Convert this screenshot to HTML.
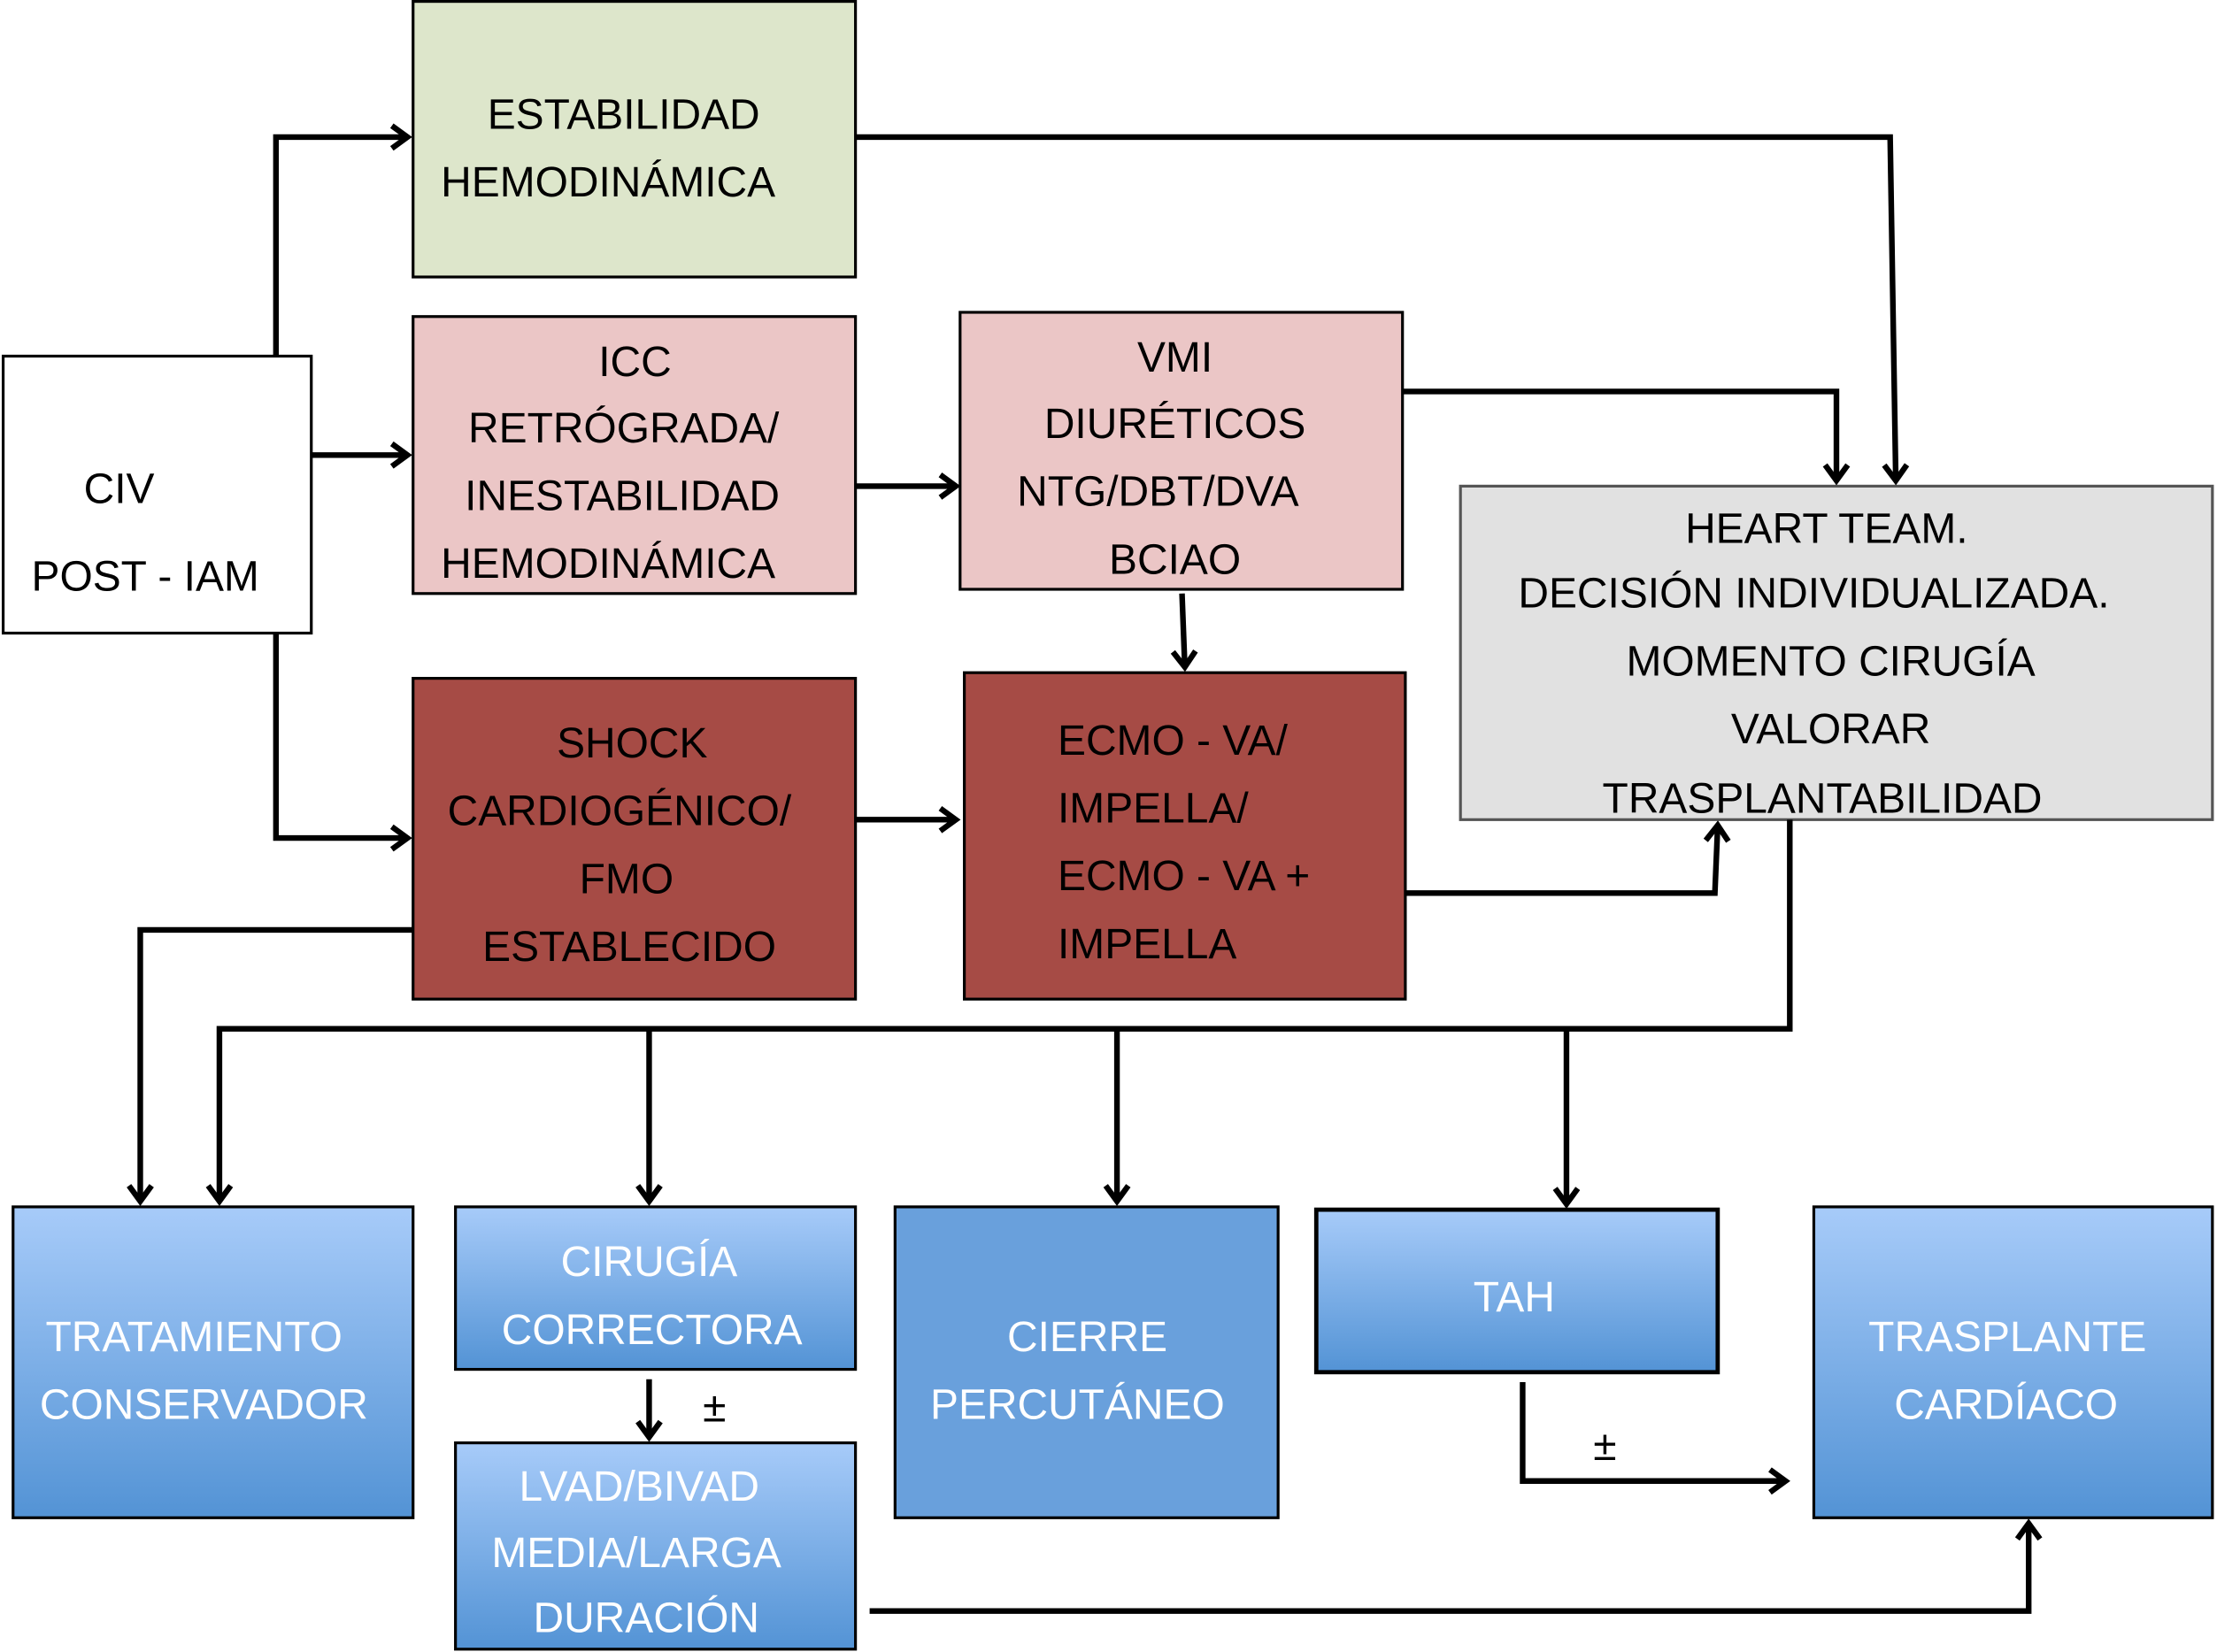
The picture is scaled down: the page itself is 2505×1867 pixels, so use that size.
<!DOCTYPE html>
<html><head><meta charset="utf-8"><style>
html,body{margin:0;padding:0;background:#fff}
svg{display:block}
text{font-family:"Liberation Sans",Arial,sans-serif;font-size:30px}
</style></head><body>
<svg width="2505" height="1867" viewBox="0 0 1568 1169" xmlns="http://www.w3.org/2000/svg">
<defs>
<linearGradient id="bl" x1="0" y1="0" x2="0" y2="1"><stop offset="0" stop-color="#a7cbf9"/><stop offset="1" stop-color="#5393d5"/></linearGradient>
<marker id="a" markerUnits="userSpaceOnUse" markerWidth="24" markerHeight="24" refX="13" refY="10" orient="auto" viewBox="0 0 24 20">
<path d="M2,2 L13,10 L2,18" fill="none" stroke="#000" stroke-width="4"/></marker>
</defs>
<g stroke="#000" stroke-width="2">
<rect x="2" y="252" width="218" height="196" fill="#fff"/>
<rect x="292" y="1" width="313" height="195" fill="#dde6cb"/>
<rect x="292" y="224" width="313" height="196" fill="#ebc6c6"/>
<rect x="679" y="221" width="313" height="196" fill="#ebc6c6"/>
<rect x="292" y="480" width="313" height="227" fill="#a64b45"/>
<rect x="682" y="476" width="312" height="231" fill="#a64b45"/>
<rect x="1033" y="344" width="532" height="236" fill="#e1e1e1" stroke="#555"/>
<rect x="9" y="854" width="283" height="220" fill="url(#bl)"/>
<rect x="322" y="854" width="283" height="115" fill="url(#bl)"/>
<rect x="322" y="1021" width="283" height="146" fill="url(#bl)"/>
<rect x="633" y="854" width="271" height="220" fill="#69a0dc"/>
<rect x="931" y="856" width="284" height="115" fill="url(#bl)" stroke-width="3"/>
<rect x="1283" y="854" width="282" height="220" fill="url(#bl)"/>
</g>
<g fill="none" stroke="#000" stroke-width="4">
<path d="M195,252 V97 H288" marker-end="url(#a)"/>
<path d="M220,322 H288" marker-end="url(#a)"/>
<path d="M195,448 V593 H288" marker-end="url(#a)"/>
<path d="M605,344 H676" marker-end="url(#a)"/>
<path d="M836,420 L838,472" marker-end="url(#a)"/>
<path d="M605,580 H676" marker-end="url(#a)"/>
<path d="M605,97 H1337 L1341,340" marker-end="url(#a)"/>
<path d="M992,277 H1299 V340" marker-end="url(#a)"/>
<path d="M994,632 H1213 L1215,584" marker-end="url(#a)"/>
<path d="M1266,580 V728 H155 V850" marker-end="url(#a)"/>
<path d="M459,728 V850" marker-end="url(#a)"/>
<path d="M790,728 V850" marker-end="url(#a)"/>
<path d="M1108,728 V852" marker-end="url(#a)"/>
<path d="M292,658 H99 V850" marker-end="url(#a)"/>
<path d="M459,976 V1017" marker-end="url(#a)"/>
<path d="M1077,978 V1048 H1263" marker-end="url(#a)"/>
<path d="M615,1140 H1435 V1078" marker-end="url(#a)"/>
</g>
<g fill="#000">
<text x="59" y="356">CIV</text>
<text x="22" y="418">POST - IAM</text>
<g text-anchor="middle">
<text x="441" y="91">ESTABILIDAD</text>
<text x="430" y="139">HEMODINÁMICA</text>
<text x="449" y="266">ICC</text>
<text x="441" y="313">RETRÓGRADA/</text>
<text x="440" y="361">INESTABILIDAD</text>
<text x="430" y="409">HEMODINÁMICA</text>
<text x="831" y="263">VMI</text>
<text x="831" y="310">DIURÉTICOS</text>
<text x="819" y="358">NTG/DBT/DVA</text>
<text x="831" y="406">BCIAO</text>
<text x="447" y="536">SHOCK</text>
<text x="438" y="584">CARDIOGÉNICO/</text>
<text x="443" y="632">FMO</text>
<text x="445" y="680">ESTABLECIDO</text>
<text x="1292" y="384">HEART  TEAM.</text>
<text x="1283" y="430">DECISIÓN  INDIVIDUALIZADA.</text>
<text x="1295" y="478">MOMENTO    CIRUGÍA</text>
<text x="1295" y="526">VALORAR</text>
<text x="1289" y="575">TRASPLANTABILIDAD</text>
</g>
<text x="748" y="534">ECMO - VA/</text>
<text x="748" y="582">IMPELLA/</text>
<text x="748" y="630">ECMO - VA   +</text>
<text x="748" y="678">IMPELLA</text>
<text x="497" y="1006" font-size="24">±</text>
<text x="1127" y="1033" font-size="24">±</text>
</g>
<g fill="#fff" text-anchor="middle">
<text x="137" y="956">TRATAMIENTO</text>
<text x="144" y="1004">CONSERVADOR</text>
<text x="459" y="903">CIRUGÍA</text>
<text x="461" y="951">CORRECTORA</text>
<text x="452" y="1062">LVAD/BIVAD</text>
<text x="450" y="1109">MEDIA/LARGA</text>
<text x="457" y="1155">DURACIÓN</text>
<text x="769" y="956">CIERRE</text>
<text x="762" y="1004">PERCUTÁNEO</text>
<text x="1071" y="928">TAH</text>
<text x="1420" y="956">TRASPLANTE</text>
<text x="1419" y="1004">CARDÍACO</text>
</g>
</svg>
</body></html>
